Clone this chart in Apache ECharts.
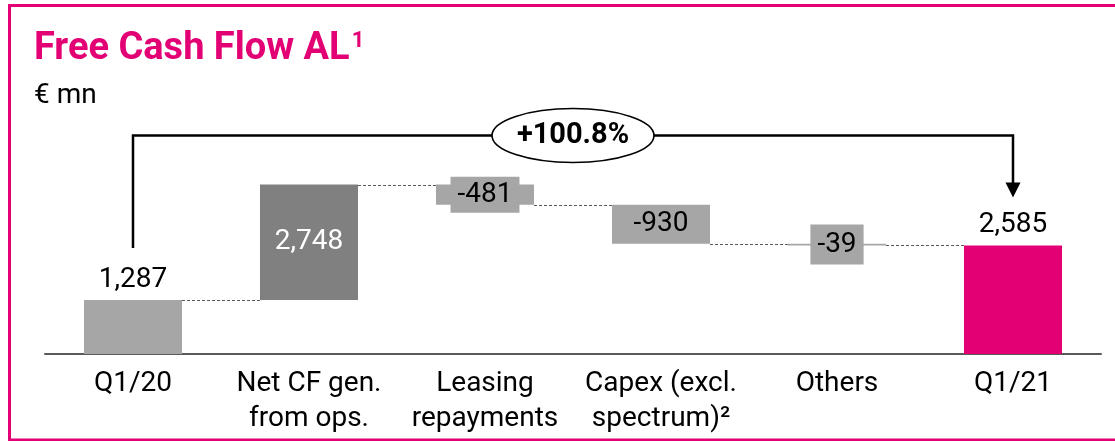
<!DOCTYPE html>
<html><head><meta charset="utf-8">
<script src="https://cdn.jsdelivr.net/npm/echarts@6/dist/echarts.min.js"></script>
<style>html,body{margin:0;padding:0;background:#fff}#c{width:1115px;height:441px}</style>
</head><body><div id="c"></div>
<script>
// ---- data ----
const categories = ['Q1/20', 'Net CF gen.\nfrom ops.', 'Leasing\nrepayments', 'Capex (excl.\nspectrum)²', 'Others', 'Q1/21'];
const values = [1287, 2748, -481, -930, -39, 2585];
const isTotal = [true, false, false, false, false, true];
const titleText = 'Free Cash Flow AL';
const titleNote = '1';
const unitText = '€ mn';
const changeText = '+100.8%';

// ---- styling ----
const MAGENTA = '#E20074';
const FONT = 'Roboto, "Noto Sans", sans-serif';
const barColors = ['#A6A6A6', '#808080', '#A6A6A6', '#A6A6A6', '#A6A6A6', MAGENTA];
const BAR_FRAC = 0.557;

// ---- waterfall derivation ----
let running = 0;
const base = [], height = [], levelAfter = [];
values.forEach((v, i) => {
  if (isTotal[i]) { base.push(0); height.push(v); running = v; }
  else if (v >= 0) { base.push(running); height.push(v); running += v; }
  else { running += v; base.push(running); height.push(-v); }
  levelAfter.push(running);
});
const fmt = n => (n < 0 ? '-' : '') + Math.abs(n).toLocaleString('en-US');

function labelFor(i) {
  const common = { show: true, fontFamily: FONT, fontSize: 28, color: '#000', formatter: () => fmt(values[i]) };
  if (isTotal[i]) return Object.assign(common, { position: 'top', distance: 6 });
  if (i === 1) return Object.assign(common, { position: 'inside', color: '#fff' });
  if (i === 2) return Object.assign(common, { position: 'inside', backgroundColor: '#A6A6A6', padding: [4, 7], lineHeight: 28 });
  if (i === 4) return Object.assign(common, { position: 'inside', backgroundColor: '#A6A6A6', padding: [6, 7], lineHeight: 28 });
  return Object.assign(common, { position: 'inside' });
}

const chart = echarts.init(document.getElementById('c'), null, { renderer: 'canvas' });
chart.setOption({
  animation: false,
  backgroundColor: '#fff',
  title: [
    { left: 34, top: 30, padding: 0,
      text: '{t|' + titleText + '}{s|' + titleNote + '}',
      textStyle: { rich: {
        t: { fontFamily: FONT, fontSize: 38, fontWeight: 'bold', color: MAGENTA },
        s: { fontFamily: FONT, fontSize: 22, fontWeight: 'bold', color: MAGENTA, verticalAlign: 'top', padding: [0, 0, 0, 2] }
      } } },
    { left: 34, top: 82, padding: 0, text: unitText,
      textStyle: { fontFamily: FONT, fontSize: 28, fontWeight: 'normal', color: '#000' } }
  ],
  grid: { left: 45, right: 14, top: 102, bottom: 87 },
  xAxis: {
    type: 'category', data: categories,
    axisLine: { lineStyle: { color: '#595959', width: 2 } },
    axisTick: { show: false },
    axisLabel: { fontFamily: FONT, fontSize: 28, color: '#000', lineHeight: 35, margin: 12, interval: 0 }
  },
  yAxis: { type: 'value', min: 0, max: 6000, show: false, splitLine: { show: false } },
  series: [
    { type: 'bar', stack: 'w', data: base, barWidth: (BAR_FRAC * 100) + '%', itemStyle: { color: 'transparent' }, silent: true },
    { type: 'bar', stack: 'w', barWidth: (BAR_FRAC * 100) + '%',
      data: height.map((h, i) => ({ value: h, itemStyle: { color: barColors[i] }, label: labelFor(i) })) },
    { type: 'custom', silent: true, z: 1,
      data: levelAfter.slice(0, -1).map((lv, i) => [i, lv]),
      renderItem: (params, api) => {
        const i = api.value(0), lv = api.value(1);
        const p1 = api.coord([i, lv]), p2 = api.coord([i + 1, lv]);
        const hw = api.size([1, 0])[0] * BAR_FRAC / 2;
        const y = Math.round(p1[1]) + 0.5;
        return { type: 'line', shape: { x1: p1[0] + hw, y1: y, x2: p2[0] - hw, y2: y },
          style: { stroke: '#595959', lineWidth: 1, lineDash: [3, 2] } };
      } }
  ]
});

// ---- annotations (bracket + growth ellipse) from the chart's scales ----
const first = 0, last = values.length - 1;
const px = (i, v) => chart.convertToPixel({ gridIndex: 0 }, [i, v]);
const pFirst = px(first, values[first]);
const pLast = px(last, values[last]);
const pPeak = px(first, Math.max.apply(null, levelAfter));
const yTop = Math.round(pPeak[1] - 50) + 0.5;
const xL = Math.round(pFirst[0]), xR = Math.round(pLast[0]);
const yLeftEnd = pFirst[1] - 52;
const yTip = pLast[1] - 48;
const cx = (xL + xR) / 2;
chart.setOption({
  graphic: [
    { type: 'rect', shape: { x: 9.5, y: 5.5, width: 1200, height: 434.5 }, style: { fill: 'none', stroke: MAGENTA, lineWidth: 3 }, silent: true },
    { type: 'polyline', shape: { points: [[xL, yLeftEnd], [xL, yTop], [xR, yTop], [xR, yTip - 14]] }, style: { stroke: '#000', lineWidth: 2.5, fill: null } },
    { type: 'polygon', shape: { points: [[xR - 7.5, yTip - 15], [xR + 7.5, yTip - 15], [xR, yTip]] }, style: { fill: '#000' } },
    { type: 'ellipse', shape: { cx: cx, cy: yTop, rx: 81, ry: 27 }, style: { fill: '#fff', stroke: '#000', lineWidth: 1.6 } },
    { type: 'text', x: cx, y: yTop, style: { text: changeText, fontFamily: FONT, fontSize: 29, fontWeight: 'bold', fill: '#000', align: 'center', verticalAlign: 'middle' } }
  ]
});
</script></body></html>
